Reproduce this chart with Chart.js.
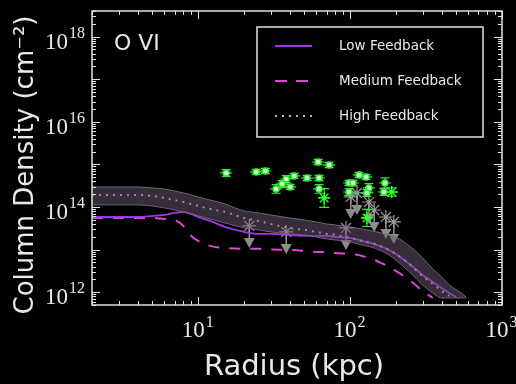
<!DOCTYPE html>
<html>
<head>
<meta charset="utf-8">
<script src="https://cdn.jsdelivr.net/npm/chart.js@4.4.1/dist/chart.umd.min.js"></script>
<style>
  html, body { margin: 0; padding: 0; background: #000; }
  #c { display: block; }
</style>
</head>
<body>
<canvas id="c" width="516" height="384"></canvas>
<script>
// O VI column density profiles (cm^-2) versus radius (kpc)

// High feedback: median profile and scatter band
const highRadius = [2,3,4,5,6,7,8,9,10,12,15,20,25,30,40,50,60,70,80,100,120,150,180,200,250,300,350,400,450];
const highN = [1.92e14,1.92e14,1.92e14,1.82e14,1.63e14,1.46e14,1.31e14,1.18e14,1.06e14,9.0e13,7.65e13,5.53e13,4.7e13,4.0e13,3.22e13,2.89e13,2.6e13,2.33e13,2.21e13,1.88e13,1.6e13,1.29e13,9.8e12,7.9e12,4.35e12,2.4e12,1.56e12,1.07e12,8.2e11];

const bandRadius = [2,3,4,5,6,7,8,9,10,12,15,20,25,30,40,50,60,70,80,100,120,150,180,200,250,300,350,400,450,500,550,580];
const bandUpper = [2.96e14,2.96e14,2.96e14,2.8e14,2.65e14,2.38e14,2.14e14,1.92e14,1.72e14,1.46e14,1.18e14,8.1e13,7.24e13,6.5e13,5.53e13,4.97e13,4.46e13,4.0e13,3.8e13,3.4e13,3.05e13,2.6e13,2.21e13,1.98e13,1.15e13,6.4e12,3.5e12,2.28e12,1.48e12,1.13e12,9.1e11,7.7e11];
const bandLower = [1.12e14,1.12e14,1.12e14,1.06e14,9.5e13,8.5e13,7.65e13,6.87e13,6.17e13,5.24e13,4.22e13,3.22e13,2.89e13,2.6e13,2.33e13,2.21e13,1.98e13,1.78e13,1.68e13,1.51e13,1.29e13,1.04e13,7.5e12,5.7e12,2.83e12,1.48e12,9.6e11,7.3e11,7.3e11,7.3e11,7.3e11,7.3e11];

// Low feedback
const lowRadius = [2,3,4,5,6,7,8,9,10,12,15,20,25,30,40,50,60,70,80,100,120,150,180,200,250,300,350,400,450,500];
const lowN = [5.83e13,5.83e13,5.83e13,6.17e13,6.5e13,7.24e13,7.65e13,6.87e13,5.83e13,4.7e13,3.4e13,2.6e13,2.33e13,2.33e13,2.21e13,2.09e13,2.09e13,2.09e13,1.98e13,1.88e13,1.6e13,1.29e13,9.8e12,7.9e12,4.35e12,2.54e12,1.74e12,1.26e12,9.6e11,7.7e11];

// Medium feedback
const medRadius = [2,3,4,5,6,7,8,9,10,12,15,20,25,30,40,50,60,70,80,100,120,150,200,250,300,350];
const medN = [5.53e13,5.53e13,5.53e13,5.53e13,5.24e13,4.97e13,3.59e13,2.09e13,1.6e13,1.22e13,1.09e13,1.04e13,1.04e13,1.0e13,9.8e12,9.3e12,8.8e12,8.8e12,8.3e12,7.9e12,7.1e12,5.4e12,3.15e12,1.84e12,1.07e12,7.3e11];

// Observed absorbers: detections (circles), detections (asterisks), upper limits
const detRadius = [15.3,24.1,27.7,61.6,72.8,32.6,35.7,38,42.8,40.3,52.1,62.5,62.5,98.4,104.5,114.5,127.4,133,129,98.4,169.5,167];
const detN = [6.3e14,6.65e14,7.0e14,1.14e15,9.7e14,2.65e14,3.48e14,4.55e14,5.36e14,2.96e14,4.8e14,4.8e14,2.65e14,3.66e14,3.66e14,5.65e14,5.07e14,2.8e14,2.14e14,2.25e14,3.66e14,2.25e14];
const detErrDex = [0.08,0.06,0.06,0.06,0.06,0.1,0.08,0.08,0.06,0.06,0.06,0.06,0.1,0.06,0.06,0.06,0.06,0.1,0.08,0.08,0.12,0.08];

const starRadius = [67.5,188,129];
const starN = [1.63e14,2.25e14,5.53e13];
const starErrDex = [0.22,0.1,0.2];

const limRadius = [21.7,38,94,101,111,133,144,172,194];
const limN = [3.59e13,2.6e13,3.22e13,1.72e14,2.14e14,1.31e14,8.5e13,5.83e13,4.46e13];

// Axis tick labels (powers of ten)
const xTickExp = [1,2,3];
const yTickExp = [12,14,16,18];

const pts = (xs, ys) => xs.map((x, i) => ({ x: x, y: ys[i] }));

const TEXT = '#e8e8e8';
const FRAME = '#e2e2e2';
const SERIF = '"Liberation Serif", "DejaVu Serif", serif';
const SANS = '"DejaVu Sans", "Liberation Sans", sans-serif';

const DS_BAND_UP = 0, DS_BAND_LO = 1, DS_HIGH = 2, DS_LOW = 3, DS_MED = 4, DS_DET = 5, DS_STAR = 6, DS_LIM = 7;

function errorBar(ctx, xs, ys, px, y, yv, dex, cap, whisk) {
  const top = ys.getPixelForValue(yv * Math.pow(10, dex));
  const bot = ys.getPixelForValue(yv / Math.pow(10, dex));
  ctx.beginPath();
  ctx.moveTo(px, top); ctx.lineTo(px, bot);
  ctx.moveTo(px - cap, top); ctx.lineTo(px + cap, top);
  ctx.moveTo(px - cap, bot); ctx.lineTo(px + cap, bot);
  ctx.moveTo(px - whisk, y); ctx.lineTo(px + whisk, y);
  ctx.stroke();
}

const decorations = {
  id: 'decorations',
  beforeDatasetDraw(chart, args) {
    const { ctx, chartArea: a, scales: { x, y } } = chart;
    ctx.save();
    ctx.beginPath();
    ctx.rect(a.left, a.top, a.right - a.left, a.bottom - a.top);
    ctx.clip();
    if (args.index === DS_DET) {
      ctx.strokeStyle = '#2cf02c';
      ctx.lineWidth = 1.2;
      detRadius.forEach((r, i) => {
        const px = x.getPixelForValue(r), py = y.getPixelForValue(detN[i]);
        errorBar(ctx, x, y, px, py, detN[i], detErrDex[i], 4.5, 6);
      });
    } else if (args.index === DS_STAR) {
      ctx.strokeStyle = '#2cf02c';
      ctx.lineWidth = 1.2;
      starRadius.forEach((r, i) => {
        const px = x.getPixelForValue(r), py = y.getPixelForValue(starN[i]);
        errorBar(ctx, x, y, px, py, starN[i], starErrDex[i], 5, 6);
      });
    } else if (args.index === DS_LIM) {
      ctx.strokeStyle = '#8c8c8c';
      ctx.fillStyle = '#8c8c8c';
      ctx.lineWidth = 1.6;
      limRadius.forEach((r, i) => {
        const px = x.getPixelForValue(r), py = y.getPixelForValue(limN[i]);
        ctx.beginPath();
        ctx.moveTo(px, py); ctx.lineTo(px, py + 14);
        ctx.stroke();
        ctx.beginPath();
        ctx.moveTo(px - 5.5, py + 12); ctx.lineTo(px + 5.5, py + 12); ctx.lineTo(px, py + 22);
        ctx.closePath();
        ctx.fill();
      });
    }
    ctx.restore();
  },
  afterDatasetsDraw(chart) {
    const { ctx, chartArea: a, scales: { x, y } } = chart;
    ctx.save();
    // frame
    ctx.strokeStyle = FRAME;
    ctx.lineWidth = 1.5;
    ctx.strokeRect(a.left, a.top, a.right - a.left, a.bottom - a.top);
    // inward ticks on all four sides
    ctx.lineWidth = 1;
    ctx.beginPath();
    for (let d = 1; d <= 1000; d *= 10) {
      for (let k = 1; k <= 9; k++) {
        const v = k * d;
        if (v < 2 || v > 1000) continue;
        const px = Math.round(x.getPixelForValue(v)) + 0.5;
        const len = k === 1 ? 8 : 4;
        ctx.moveTo(px, a.bottom); ctx.lineTo(px, a.bottom - len);
        ctx.moveTo(px, a.top); ctx.lineTo(px, a.top + len);
      }
    }
    for (let e = 11; e <= 18; e++) {
      for (let k = 1; k <= 9; k++) {
        const v = k * Math.pow(10, e);
        if (v < y.min || v > y.max) continue;
        const py = Math.round(y.getPixelForValue(v)) + 0.5;
        const len = k === 1 ? 8 : 4;
        ctx.moveTo(a.left, py); ctx.lineTo(a.left + len, py);
        ctx.moveTo(a.right, py); ctx.lineTo(a.right - len, py);
      }
    }
    ctx.stroke();

    // tick labels
    ctx.fillStyle = TEXT;
    ctx.textBaseline = 'alphabetic';
    const baseFont = '23px ' + SERIF, expFont = '16px ' + SERIF;
    yTickExp.forEach(e => {
      const py = y.getPixelForValue(Math.pow(10, e));
      ctx.font = baseFont; ctx.textAlign = 'right';
      ctx.fillText('10', 68, py + 12);
      ctx.font = expFont; ctx.textAlign = 'left';
      ctx.fillText(String(e), 69, py + 1);
    });
    xTickExp.forEach(e => {
      const px = x.getPixelForValue(Math.pow(10, e));
      ctx.font = baseFont;
      const wb = ctx.measureText('10').width;
      ctx.font = expFont;
      const we = ctx.measureText(String(e)).width;
      const start = px - (wb + we) / 2 - 1;
      ctx.font = baseFont; ctx.textAlign = 'left';
      ctx.fillText('10', start, 337);
      ctx.font = expFont;
      ctx.fillText(String(e), start + wb + 1, 327);
    });

    // axis titles
    ctx.font = '29px ' + SANS;
    ctx.textAlign = 'center';
    ctx.fillText('Radius (kpc)', (a.left + a.right) / 2 - 3, 375);
    ctx.save();
    ctx.translate(33, 165);
    ctx.rotate(-Math.PI / 2);
    ctx.font = '26px ' + SANS;
    ctx.fillText('Column Density (cm\u207B\u00B2)', 0, 0);
    ctx.restore();

    // ion label
    ctx.font = '22px ' + SANS;
    ctx.textAlign = 'left';
    ctx.fillText('O VI', 114, 50);

    // legend
    const lx = 257, ly = 27, lw = 226, lh = 110;
    ctx.fillStyle = '#000';
    ctx.fillRect(lx, ly, lw, lh);
    ctx.strokeStyle = FRAME;
    ctx.lineWidth = 1.5;
    ctx.strokeRect(lx, ly, lw, lh);
    const entries = [DS_LOW, DS_MED, DS_HIGH];
    const rows = [46, 81, 116];
    entries.forEach((idx, j) => {
      const ds = chart.data.datasets[idx];
      ctx.save();
      ctx.strokeStyle = ds.borderColor;
      ctx.lineWidth = ds.borderWidth;
      ctx.setLineDash(ds.legendDash || ds.borderDash || []);
      ctx.beginPath();
      ctx.moveTo(275, rows[j]); ctx.lineTo(312, rows[j]);
      ctx.stroke();
      ctx.restore();
      ctx.fillStyle = TEXT;
      ctx.font = '13.5px ' + SANS;
      ctx.textBaseline = 'middle';
      ctx.fillText(ds.label, 339, rows[j]);
    });
    ctx.restore();
  }
};

const BAND_FILL = 'rgba(110, 88, 115, 0.5)';
const BAND_EDGE = 'rgba(125, 105, 130, 0.9)';

new Chart(document.getElementById('c'), {
  type: 'scatter',
  data: {
    datasets: [
      { label: 'High Feedback range', data: pts(bandRadius, bandUpper), showLine: true, borderColor: BAND_EDGE, borderWidth: 1,
        backgroundColor: BAND_FILL, fill: '+1', pointRadius: 0, cubicInterpolationMode: 'monotone' },
      { label: 'High Feedback range (lower)', data: pts(bandRadius, bandLower), showLine: true, borderColor: BAND_EDGE, borderWidth: 1,
        fill: false, pointRadius: 0, cubicInterpolationMode: 'monotone' },
      { label: 'High Feedback', data: pts(highRadius, highN), showLine: true, borderColor: '#d8a6d8', borderWidth: 2,
        borderDash: [2, 5], fill: false, pointRadius: 0, cubicInterpolationMode: 'monotone' },
      { label: 'Low Feedback', data: pts(lowRadius, lowN), showLine: true, borderColor: '#a234ea', borderWidth: 1.8,
        fill: false, pointRadius: 0, cubicInterpolationMode: 'monotone' },
      { label: 'Medium Feedback', data: pts(medRadius, medN), showLine: true, borderColor: '#e046d2', borderWidth: 2,
        borderDash: [11, 10], legendDash: [12, 9], fill: false, pointRadius: 0, cubicInterpolationMode: 'monotone' },
      { label: 'Detections', data: pts(detRadius, detN), showLine: false, pointStyle: 'circle', pointRadius: 3,
        backgroundColor: '#d4ffd4', borderColor: '#2cf02c', borderWidth: 1.5 },
      { label: 'Detections (asterisk)', data: pts(starRadius, starN), showLine: false, pointStyle: 'star', pointRadius: 6,
        borderColor: '#33ff33', backgroundColor: '#33ff33', borderWidth: 1.3 },
      { label: 'Upper limits', data: pts(limRadius, limN), showLine: false, pointStyle: 'star', pointRadius: 7,
        borderColor: '#9a9a9a', backgroundColor: '#9a9a9a', borderWidth: 1.2 }
    ]
  },
  options: {
    responsive: false,
    devicePixelRatio: 1,
    animation: false,
    layout: { padding: { left: 92, right: 14, top: 11, bottom: 79 } },
    scales: {
      x: { type: 'logarithmic', min: 2, max: 1000, display: false },
      y: { type: 'logarithmic', min: 5e11, max: 4e18, display: false }
    },
    plugins: {
      legend: { display: false },
      tooltip: { enabled: false }
    }
  },
  plugins: [decorations]
});
</script>
</body>
</html>
